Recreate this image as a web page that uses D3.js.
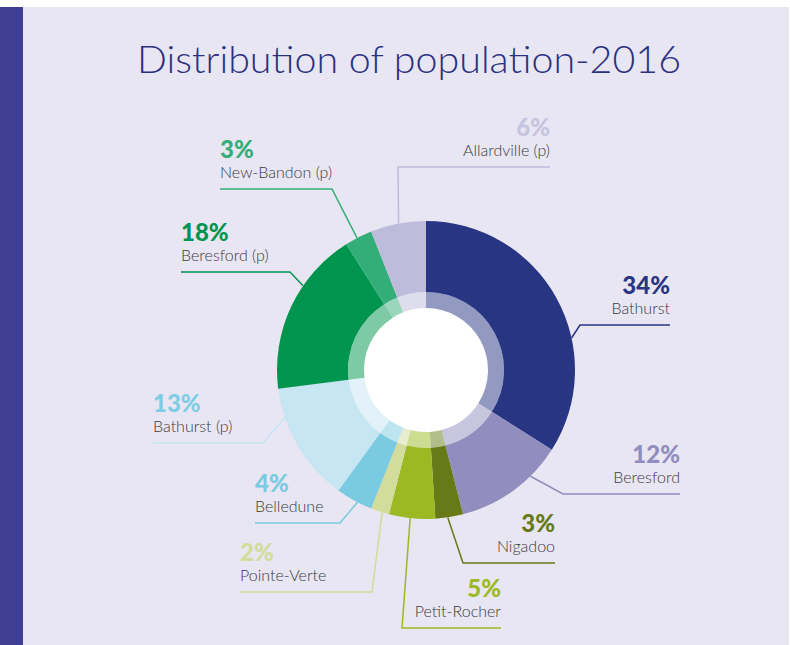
<!DOCTYPE html>
<html>
<head>
<meta charset="utf-8">
<script src="https://cdnjs.cloudflare.com/ajax/libs/d3/7.8.5/d3.min.js"></script>
<style>
  body { margin: 0; background: #fff; }
  svg { display: block; }
</style>
</head>
<body>
<svg id="chart" width="790" height="645"></svg>
<script>
// data, clockwise from 12 o'clock
var names = ["Bathurst", "Beresford", "Nigadoo", "Petit-Rocher", "Pointe-Verte",
             "Belledune", "Bathurst (p)", "Beresford (p)", "New-Bandon (p)", "Allardville (p)"];
var shares = [34, 12, 3, 5, 2, 4, 13, 18, 3, 6];
var colors = ["#283583", "#918dbf", "#677a17", "#9cb924", "#d2dc9b",
              "#7acbe2", "#c5e6f2", "#00954e", "#33ae78", "#bebcdb"];
// percentage text colours (Bathurst (p) uses a stronger blue than its slice)
var pctColors = ["#283583", "#918dbf", "#677a17", "#9cb924", "#d2dc9b",
                 "#7acbe2", "#7fcde5", "#00954e", "#33ae78", "#c6c4e0"];

// label layout: text edge x, leader line y, elbow x, end angle (deg) on the ring
var labelLayout = [
  {x: 670, y: 325, anchor: "end",   elbow: 580, ang: 77.6},
  {x: 680, y: 494, anchor: "end",   elbow: 563, ang: 135.5},
  {x: 555, y: 563, anchor: "end",   elbow: 463, ang: 171.6},
  {x: 501, y: 628, anchor: "end",   elbow: 402, ang: 186.1},
  {x: 240, y: 592, anchor: "start", elbow: 372, ang: 197.1},
  {x: 255, y: 523, anchor: "start", elbow: 340, ang: 207.4},
  {x: 153, y: 443, anchor: "start", elbow: 263, ang: 251.4},
  {x: 181, y: 272, anchor: "start", elbow: 290, ang: 304.4},
  {x: 220, y: 189, anchor: "start", elbow: 332, ang: 332.4},
  {x: 550, y: 167, anchor: "end",   elbow: 398, ang: 349.4}
];

var svg = d3.select("#chart");
var cx = 426, cy = 370, R = 149, ringR = 78, holeR = 62;

// background panel
svg.append("rect").attr("x", 0).attr("y", 0).attr("width", 790).attr("height", 645).attr("fill", "#fff");
svg.append("rect").attr("x", 0).attr("y", 7).attr("width", 789).attr("height", 638).attr("fill", "#e8e6f3");
svg.append("rect").attr("x", 0).attr("y", 7).attr("width", 23).attr("height", 638).attr("fill", "#3e3f94");

svg.append("text")
  .attr("x", 409).attr("y", 73)
  .attr("text-anchor", "middle")
  .attr("font-family", "Lato, sans-serif")
  .attr("font-weight", 300)
  .attr("font-size", 38)
  .attr("fill", "#2b3180")
  .attr("textLength", 544)
  .attr("lengthAdjust", "spacingAndGlyphs")
  .text("Distribution of population-2016");

var data = names.map(function(n, i) { return {name: n, value: shares[i], color: colors[i], pct: pctColors[i]}; });
var pie = d3.pie().sort(null).value(function(d) { return d.value; });
var arcs = pie(data);

var outer = d3.arc().innerRadius(ringR).outerRadius(R);
var inner = d3.arc().innerRadius(holeR).outerRadius(ringR);

var g = svg.append("g").attr("transform", "translate(" + cx + "," + cy + ")");

g.append("circle").attr("r", ringR).attr("fill", "#fff");

g.selectAll("path.outer")
  .data(arcs)
  .enter().append("path")
  .attr("class", "outer")
  .attr("d", outer)
  .attr("fill", function(d) { return d.data.color; });

g.selectAll("path.inner")
  .data(arcs)
  .enter().append("path")
  .attr("class", "inner")
  .attr("d", inner)
  .attr("fill", function(d) { return d.data.color; })
  .attr("fill-opacity", 0.5);

// leader lines and labels
var labels = svg.append("g");
data.forEach(function(d, i) {
  var L = labelLayout[i];
  var a = L.ang * Math.PI / 180;
  var ex = cx + R * Math.sin(a), ey = cy - R * Math.cos(a);
  labels.append("polyline")
    .attr("points", [[L.x, L.y], [L.elbow, L.y], [ex, ey]].map(function(p) { return p.join(","); }).join(" "))
    .attr("fill", "none")
    .attr("stroke", d.color)
    .attr("stroke-width", 1.5);
  labels.append("text")
    .attr("x", L.x).attr("y", L.y - 31)
    .attr("text-anchor", L.anchor)
    .attr("font-family", "Lato, sans-serif")
    .attr("font-weight", 900)
    .attr("font-size", 24)
    .attr("fill", d.pct)
    .text(d.value + "%");
  labels.append("text")
    .attr("x", L.x).attr("y", L.y - 11)
    .attr("text-anchor", L.anchor)
    .attr("font-family", "Lato, sans-serif")
    .attr("font-weight", 300)
    .attr("font-size", 16)
    .attr("fill", "#3b3b3b")
    .text(d.name);
});
</script>
</body>
</html>
